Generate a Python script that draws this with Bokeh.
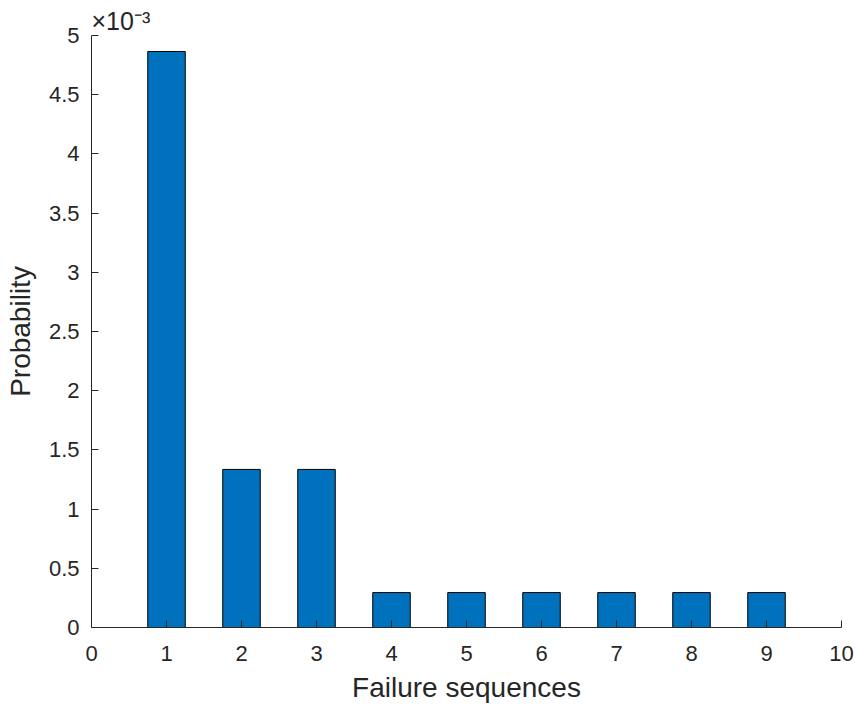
from bokeh.plotting import figure
from bokeh.models import Range1d, FixedTicker, Title
from bokeh.embed import file_html
from bokeh.resources import INLINE

# Data
sequences = [1, 2, 3, 4, 5, 6, 7, 8, 9]
probability = [4.865e-3, 1.335e-3, 1.335e-3, 0.295e-3, 0.295e-3, 0.295e-3, 0.295e-3, 0.295e-3, 0.295e-3]
scale = 1e3
x_ticks = [0, 1, 2, 3, 4, 5, 6, 7, 8, 9, 10]
y_ticks = [0, 0.5, 1, 1.5, 2, 2.5, 3, 3.5, 4, 4.5, 5]
y_tick_labels = ["0", "0.5", "1", "1.5", "2", "2.5", "3", "3.5", "4", "4.5", "5"]
exponent_text = "×10\u207B\u00B3"

FONT = "Liberation Sans"
AX = "#262626"

p = figure(width=855, height=706, output_backend="svg", toolbar_location=None,
           x_range=Range1d(0, 10), y_range=Range1d(0, 5),
           min_border_left=91, min_border_right=14, min_border_top=35, min_border_bottom=79)
p.outline_line_color = None
p.xgrid.visible = False
p.ygrid.visible = False

p.add_layout(Title(text=exponent_text, align="left", text_font=FONT, text_font_size="25px",
                   text_font_style="normal", text_color=AX, standoff=2, offset=0), "above")

p.vbar(x=sequences, top=[v * scale for v in probability], width=0.5,
       fill_color="#0072BD", line_color="#000000", line_width=1)

for ax in (p.xaxis[0], p.yaxis[0]):
    ax.axis_line_color = AX
    ax.major_tick_line_color = AX
    ax.major_tick_in = 7
    ax.major_tick_out = 0
    ax.minor_tick_line_color = None
    ax.major_label_text_font = FONT
    ax.major_label_text_font_size = "22px"
    ax.major_label_text_color = AX
    ax.axis_label_text_font = FONT
    ax.axis_label_text_font_size = "28px"
    ax.axis_label_text_font_style = "normal"
    ax.axis_label_text_color = AX

p.xaxis[0].ticker = FixedTicker(ticks=x_ticks)
p.yaxis[0].ticker = FixedTicker(ticks=y_ticks)
p.yaxis[0].major_label_overrides = {t: s for t, s in zip(y_ticks, y_tick_labels)}
p.xaxis[0].axis_label = "Failure sequences"
p.yaxis[0].axis_label = "Probability"
p.xaxis[0].major_label_standoff = 18
p.yaxis[0].major_label_standoff = 12
p.xaxis[0].axis_label_standoff = 8
p.yaxis[0].axis_label_standoff = 10

open("out.html", "w").write(file_html(p, INLINE))
